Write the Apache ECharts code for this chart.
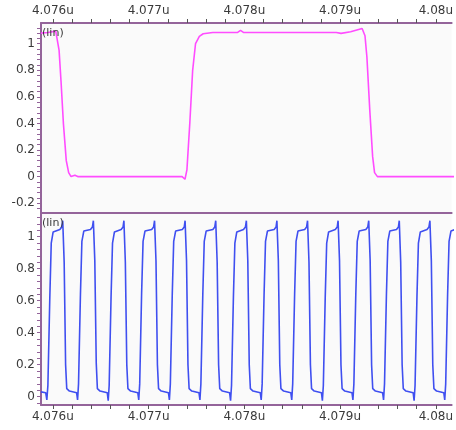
<!DOCTYPE html>
<html>
<head>
<meta charset="utf-8">
<script src="https://cdn.jsdelivr.net/npm/echarts@6/dist/echarts.min.js"></script>
<style>
html,body{margin:0;padding:0;background:#fff;}
#chart{width:456px;height:430px;}
</style>
</head>
<body>
<div id="chart"></div>
<script>
// time in ns, labels shown as microseconds
const xMajorTicks = [4076, 4077, 4078, 4079, 4080];
const topYLabels = [-0.2, 0, 0.2, 0.4, 0.6, 0.8, 1];
const bottomYLabels = [0, 0.2, 0.4, 0.6, 0.8, 1];
const panelLabel = '(lin)';

// top (magenta) waveform
const pinkSignal = [
  [4075.876,1.08],[4075.95,1.085],[4076.03,1.095],[4076.05,1.08],[4076.065,0.95],
  [4076.085,0.72],[4076.11,0.4],[4076.14,0.12],[4076.165,0.03],[4076.19,0.0],
  [4076.23,0.01],[4076.26,0.0],[4077.35,0.0],[4077.38,-0.02],[4077.40,0.05],
  [4077.43,0.4],[4077.46,0.8],[4077.49,1.0],[4077.53,1.055],[4077.57,1.075],
  [4077.67,1.085],[4077.93,1.085],[4077.96,1.1],[4077.99,1.085],[4078.96,1.085],
  [4079.01,1.078],[4079.11,1.09],[4079.23,1.115],[4079.26,1.06],[4079.28,0.9],
  [4079.31,0.5],[4079.34,0.15],[4079.36,0.03],[4079.39,0.0],[4080.2,0.0]
];

// bottom (blue) clock waveform
const blueSignal = [
  [4075.876,0.03],[4075.925,0.025],[4075.937,-0.02],[4075.948,0.07],[4075.968,0.62],[4075.983,0.96],[4076.003,1.03],[4076.073,1.045],[4076.093,1.06],
  [4076.103,1.10],[4076.118,0.84],[4076.133,0.2],[4076.145,0.05],[4076.173,0.035],[4076.248,0.025],[4076.258,-0.02],[4076.268,0.08],[4076.288,0.64],[4076.303,0.97],[4076.323,1.035],[4076.393,1.045],[4076.413,1.06],
  [4076.423,1.10],[4076.438,0.85],[4076.453,0.21],[4076.465,0.05],[4076.493,0.035],[4076.568,0.025],[4076.578,-0.025],[4076.588,0.07],[4076.608,0.63],[4076.623,0.96],[4076.643,1.03],[4076.713,1.045],[4076.733,1.06],
  [4076.742,1.10],[4076.757,0.84],[4076.772,0.2],[4076.784,0.05],[4076.812,0.035],[4076.887,0.025],[4076.897,-0.02],[4076.907,0.08],[4076.927,0.65],[4076.942,0.97],[4076.962,1.035],[4077.032,1.045],[4077.052,1.06],
  [4077.062,1.10],[4077.077,0.85],[4077.092,0.2],[4077.104,0.05],[4077.132,0.035],[4077.207,0.025],[4077.217,-0.02],[4077.227,0.08],[4077.247,0.64],[4077.262,0.97],[4077.282,1.035],[4077.352,1.045],[4077.372,1.06],
  [4077.381,1.10],[4077.396,0.85],[4077.411,0.2],[4077.423,0.05],[4077.451,0.035],[4077.526,0.025],[4077.536,-0.02],[4077.546,0.08],[4077.566,0.64],[4077.581,0.97],[4077.601,1.035],[4077.671,1.045],[4077.691,1.06],
  [4077.701,1.10],[4077.716,0.84],[4077.731,0.2],[4077.743,0.05],[4077.771,0.035],[4077.846,0.025],[4077.856,-0.025],[4077.866,0.07],[4077.886,0.63],[4077.901,0.96],[4077.921,1.03],[4077.991,1.045],[4078.011,1.06],
  [4078.021,1.10],[4078.036,0.85],[4078.051,0.2],[4078.063,0.05],[4078.091,0.035],[4078.166,0.025],[4078.176,-0.02],[4078.186,0.08],[4078.206,0.64],[4078.221,0.97],[4078.241,1.035],[4078.311,1.045],[4078.331,1.06],
  [4078.340,1.10],[4078.355,0.85],[4078.370,0.2],[4078.382,0.05],[4078.410,0.035],[4078.485,0.025],[4078.495,-0.02],[4078.505,0.08],[4078.525,0.64],[4078.540,0.97],[4078.560,1.035],[4078.630,1.045],[4078.650,1.06],
  [4078.660,1.10],[4078.675,0.84],[4078.690,0.2],[4078.702,0.05],[4078.730,0.035],[4078.805,0.025],[4078.815,-0.025],[4078.825,0.07],[4078.845,0.63],[4078.860,0.96],[4078.880,1.03],[4078.950,1.045],[4078.970,1.06],
  [4078.979,1.10],[4078.994,0.85],[4079.009,0.2],[4079.021,0.05],[4079.049,0.035],[4079.124,0.025],[4079.134,-0.02],[4079.144,0.08],[4079.164,0.64],[4079.179,0.97],[4079.199,1.035],[4079.269,1.045],[4079.289,1.06],
  [4079.299,1.10],[4079.314,0.85],[4079.329,0.2],[4079.341,0.05],[4079.369,0.035],[4079.444,0.025],[4079.454,-0.02],[4079.464,0.08],[4079.484,0.64],[4079.499,0.97],[4079.519,1.035],[4079.589,1.045],[4079.609,1.06],
  [4079.618,1.10],[4079.633,0.84],[4079.648,0.2],[4079.660,0.05],[4079.688,0.035],[4079.763,0.025],[4079.773,-0.025],[4079.783,0.07],[4079.803,0.63],[4079.818,0.96],[4079.838,1.03],[4079.908,1.045],[4079.928,1.06],
  [4079.938,1.10],[4079.953,0.85],[4079.968,0.2],[4079.980,0.05],[4080.008,0.035],[4080.083,0.025],[4080.093,-0.02],[4080.103,0.08],[4080.123,0.64],[4080.138,0.97],[4080.158,1.035],[4080.200,1.045]
];

// minor tick positions (axis decoration)
function steps(a, b, s) { const r = []; for (let v = a; v <= b + 1e-9; v += s) r.push(+v.toFixed(3)); return r; }
const xMinorTicks = steps(4076, 4080, 0.2);
const topYMinor = steps(-0.24, 1.12, 0.04);
const botYMinor = steps(-0.04, 1.12, 0.04);

const AXIS = '#94649a';
const TEXT = '#3a3a3a';
const FONT = 'DejaVu Sans';
const X_MIN = 4075.876, X_MAX = 4080.165;

function xAxisDef(gridIndex, pos, showLabels) {
  return {
    type: 'value', gridIndex, position: pos, min: X_MIN, max: X_MAX,
    axisLine: { show: true, onZero: false, lineStyle: { color: AXIS, width: 2 } },
    axisTick: { show: showLabels, inside: false, length: 4, customValues: xMinorTicks, lineStyle: { color: '#555', width: 1 } },
    axisLabel: { show: showLabels, customValues: xMajorTicks, margin: 6, color: TEXT, fontFamily: FONT, fontSize: 12,
      formatter: v => (+(v / 1000).toFixed(3)) + 'u' },
    splitLine: { show: false }
  };
}
function yAxisDef(gridIndex, min, max, labels, minor) {
  return {
    type: 'value', gridIndex, min, max,
    axisLine: { show: true, onZero: false, lineStyle: { color: AXIS, width: 2 } },
    axisTick: { show: true, inside: false, length: 4, customValues: minor, lineStyle: { color: AXIS, width: 1 } },
    axisLabel: { customValues: labels, margin: 6, color: TEXT, fontFamily: FONT, fontSize: 12,
      formatter: v => String(+v.toFixed(2)) },
    splitLine: { show: false }
  };
}

const chart = echarts.init(document.getElementById('chart'), null, { renderer: 'canvas' });
chart.setOption({
  animation: false,
  backgroundColor: '#ffffff',
  grid: [
    { left: 41, top: 23, right: -2, height: 190, show: true, backgroundColor: '#fafafa', borderWidth: 0 },
    { left: 41, top: 213, right: -2, height: 192, show: true, backgroundColor: '#fafafa', borderWidth: 0 }
  ],
  xAxis: [
    xAxisDef(0, 'top', true),
    xAxisDef(1, 'bottom', true),
    xAxisDef(1, 'top', false)
  ],
  yAxis: [
    yAxisDef(0, -0.274, 1.156, topYLabels, topYMinor),
    yAxisDef(1, -0.052, 1.148, bottomYLabels, botYMinor)
  ],
  graphic: [
    { type: 'text', left: 42, top: 28, style: { text: panelLabel, fill: TEXT, font: '11px "DejaVu Sans"' }, z: 10 },
    { type: 'text', left: 42, top: 218, style: { text: panelLabel, fill: TEXT, font: '11px "DejaVu Sans"' }, z: 10 }
  ],
  series: [
    { type: 'line', xAxisIndex: 0, yAxisIndex: 0, data: pinkSignal, showSymbol: false, clip: true,
      lineStyle: { color: '#ff4cff', width: 1.6 } },
    { type: 'line', xAxisIndex: 1, yAxisIndex: 1, data: blueSignal, showSymbol: false, clip: true,
      lineStyle: { color: '#3f4ff0', width: 1.6 } }
  ]
});
</script>
</body>
</html>
